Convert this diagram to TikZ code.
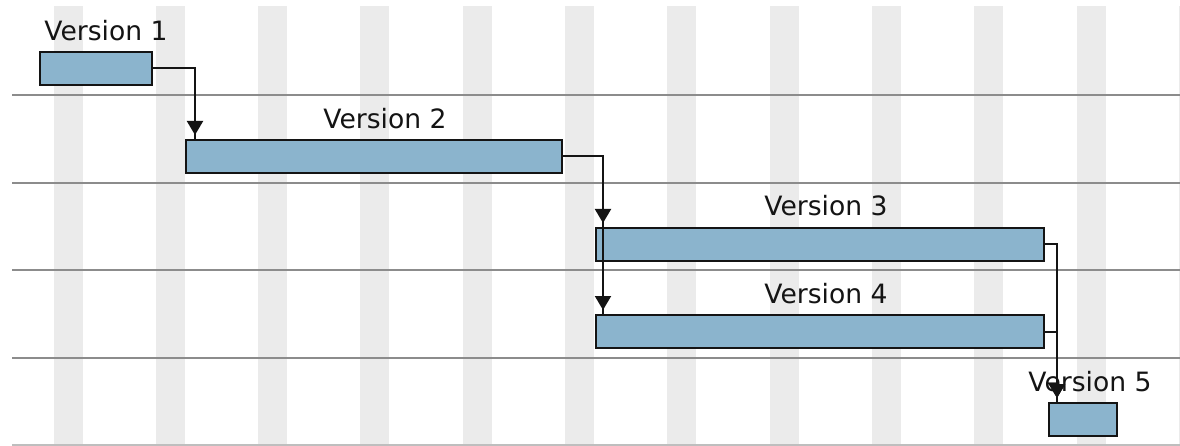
\documentclass[tikz,border=0pt]{standalone}
\usepackage{fontspec}
\setmainfont{DejaVu Sans}
\usetikzlibrary{arrows.meta,calc,decorations.markings}

\definecolor{stripe}{RGB}{235,235,235}
\definecolor{rowline}{RGB}{140,140,140}
\definecolor{rowlinelight}{RGB}{190,190,190}
\definecolor{barfill}{RGB}{139,180,205}
\definecolor{ink}{RGB}{20,20,20}

\tikzset{
  bar/.style={draw=ink, line width=2pt, fill=barfill, inner sep=0pt, outer sep=0pt,
              minimum height=33pt, rectangle},
  label/.style={anchor=base, inner sep=0pt, text=ink,
                font=\fontsize{26.6}{30}\selectfont},
  conn/.style={draw=ink, line width=2pt,
               postaction={decorate, decoration={markings,
                 mark=at position -5pt with {\arrow{Triangle[width=16pt,length=14pt]}}}}},
  rowsep/.style={draw=rowline, line width=2pt},
}

\begin{document}
\begin{tikzpicture}[x=1pt, y=-1pt]
  \useasboundingbox (0,0) rectangle (1180,446);
  \fill[white] (0,0) rectangle (1180,446);

  % vertical time stripes
  \foreach \i in {0,...,11}
    \fill[stripe] ({53.5+102.3*\i},6) rectangle ({53.5+102.3*\i+29},446);

  % row separators
  \foreach \yy in {95,183,270,358}
    \draw[rowsep] (12,\yy) -- (1180,\yy);
  \draw[draw=rowlinelight, line width=2pt] (12,445) -- (1180,445);

  % task bars
  \node[bar, minimum width=112pt] (v1) at (96,68.5) {};
  \node[bar, minimum width=376pt] (v2) at (374,156.5) {};
  \node[bar, minimum width=448pt] (v3) at (820,244.5) {};
  \node[bar, minimum width=448pt] (v4) at (820,331.5) {};
  \node[bar, minimum width=68pt]  (v5) at (1083,419.5) {};

  % bar captions
  \node[label] (t1) at (106,40.5)  {Version 1};
  \node[label] (t2) at (385,128.5) {Version 2};
  \node[label] (t3) at (826,216)   {Version 3};
  \node[label] (t4) at (826,303.5) {Version 4};
  \node[label] (t5) at (1090,391.5) {Version 5};

  % dependency connectors
  \coordinate (in2) at ($(v2.north west)+(9,0)$);
  \coordinate (in3) at ($(v3.north west)+(7,0)$);
  \coordinate (in4) at ($(v4.north west)+(7,0)$);
  \coordinate (in5) at ($(v5.north west)+(8,0)$);

  \draw[conn] (v1.east) -| (in2);
  \draw[conn] (v2.east) -| (in3);
  \draw[conn] (v2.east) -| (in4);
  \draw[conn] (v3.east) -| (in5);
  \draw[conn] (v4.east) -| (in5);
\end{tikzpicture}
\end{document}
